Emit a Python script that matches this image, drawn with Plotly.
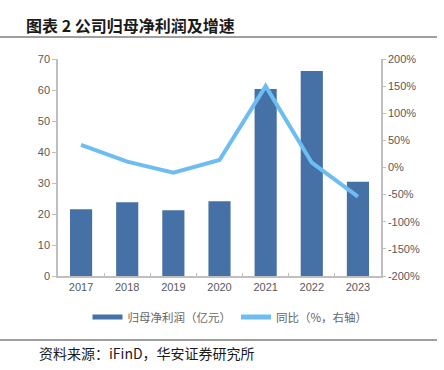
import plotly.graph_objects as go

years = ["2017", "2018", "2019", "2020", "2021", "2022", "2023"]
profit = [21.5, 23.8, 21.2, 24.1, 60.3, 66.1, 30.4]
growth = [41.5, 10.7, -9.6, 13.8, 150.0, 8.9, -53.8]

left_ticks = [0, 10, 20, 30, 40, 50, 60, 70]
right_ticks = [-200, -150, -100, -50, 0, 50, 100, 150, 200]
right_labels = [f"{v}%" for v in right_ticks]

bar_name = "归母净利润（亿元）"
line_name = "同比（%，右轴）"
title_text = "<b>图表 2 公司归母净利润及增速</b>"
source_text = "资料来源：iFinD，华安证券研究所"

BAR_COLOR = "#4571A6"
LINE_COLOR = "#6DBDF2"
AX_COLOR = "#BFBFBF"
TXT_COLOR = "#595959"
FONT = "Liberation Sans, Arial, Noto Sans CJK SC, sans-serif"
CJK = "Noto Sans CJK SC, sans-serif"

fig = go.Figure()
fig.add_trace(go.Bar(x=years, y=profit, marker=dict(color=BAR_COLOR, line=dict(width=0)),
                     showlegend=False, yaxis="y"))
fig.add_trace(go.Scatter(x=years, y=growth, mode="lines", line=dict(color=LINE_COLOR, width=4),
                         showlegend=False, yaxis="y2"))
# legend proxies
fig.add_trace(go.Scatter(x=[None], y=[None], mode="lines", line=dict(color=BAR_COLOR, width=5),
                         name=bar_name, yaxis="y"))
fig.add_trace(go.Scatter(x=[None], y=[None], mode="lines", line=dict(color=LINE_COLOR, width=5),
                         name=line_name, yaxis="y2"))

W, H = 444, 370
L, R, T, B = 58, 381, 59, 276
pw, ph = R - L, B - T

def px(x):
    return (x - L) / pw

def py(y):
    return (B - y) / ph

fig.update_layout(
    width=W, height=H,
    margin=dict(l=L, r=W - R, t=T, b=H - B, autoexpand=False),
    paper_bgcolor="white", plot_bgcolor="white",
    bargap=0.52,
    font=dict(family=FONT, size=11, color=TXT_COLOR),
    xaxis=dict(type="category", showline=True, linecolor=AX_COLOR, linewidth=1.5,
               ticks="inside", tickson="boundaries", ticklen=3, tickcolor=AX_COLOR,
               showgrid=False, automargin=False,
               tickfont=dict(size=11, color=TXT_COLOR, family=FONT)),
    yaxis=dict(range=[0, 70], tickvals=left_ticks, showline=True, linecolor=AX_COLOR,
               linewidth=1.5, ticks="outside", ticklen=4, tickcolor=AX_COLOR,
               showgrid=False, zeroline=False, automargin=False,
               tickfont=dict(size=11, color=TXT_COLOR, family=FONT)),
    yaxis2=dict(range=[-200, 200], tickvals=right_ticks, ticktext=right_labels,
                overlaying="y", side="right", showline=True, linecolor=AX_COLOR,
                linewidth=1.5, ticks="outside", ticklen=3, tickcolor=AX_COLOR,
                showgrid=False, zeroline=False, automargin=False,
                tickfont=dict(size=11, color=TXT_COLOR, family=FONT)),
    legend=dict(orientation="h", x=px(230), xanchor="center", y=py(317), yanchor="middle",
                font=dict(size=11.5, color="#666666", family=CJK), itemwidth=30,
                bgcolor="rgba(0,0,0,0)", tracegroupgap=0),
    showlegend=True,
)

fig.add_annotation(text=title_text, xref="paper", yref="paper", x=px(24), y=py(25),
                   xanchor="left", yanchor="middle", showarrow=False,
                   font=dict(size=16, color="#1a1a1a", family=CJK))
fig.add_annotation(text=source_text, xref="paper", yref="paper", x=px(37), y=py(353),
                   xanchor="left", yanchor="middle", showarrow=False,
                   font=dict(size=14, color="#1a1a1a", family=CJK))
for yy in (37, 340):
    fig.add_shape(type="line", xref="paper", yref="paper", x0=px(0), x1=px(437),
                  y0=py(yy), y1=py(yy), line=dict(color="#404040", width=1.2))

fig.write_html("out.html", config={"displayModeBar": False},
               post_script="document.body.style.margin='0';document.body.style.overflow='hidden';")
